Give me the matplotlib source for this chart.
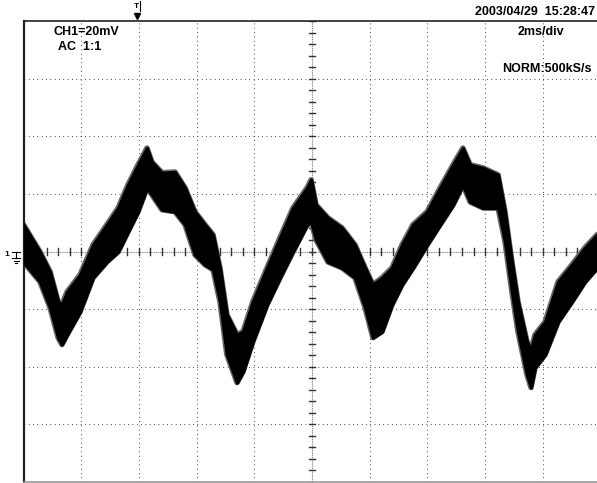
import numpy as np
import matplotlib.pyplot as plt
from matplotlib.lines import Line2D

# trace envelope (time in ms from left edge, voltage in mV)
t_ms = [0.0, 0.57, 0.92, 1.20, 1.33, 1.51, 1.96, 2.41, 2.89, 3.28, 3.62, 3.97,
        4.28, 4.45, 4.80, 5.25, 5.60, 5.94, 6.29, 6.57, 6.81, 7.05, 7.40, 7.61,
        7.95, 8.44, 8.89, 9.34, 9.83, 9.97, 10.14, 10.55, 11.04, 11.49, 11.84,
        12.11, 12.43, 12.77, 13.12, 13.50, 13.99, 14.44, 14.89, 15.23, 15.48,
        15.93, 16.45, 16.69, 16.93, 17.14, 17.45, 17.59, 17.73, 18.08, 18.53,
        19.01, 19.46, 19.88, 20.0]
v_top = [9.3, -0.1, -7.0, -17.4, -18.5, -14.0, -8.1, 2.3, 9.3, 15.1, 23.1, 30.1,
         35.9, 31.1, 27.3, 27.6, 22.1, 13.8, 9.3, 5.8, -5.7, -21.9, -28.9, -27.8,
         -17.4, -5.7, 4.8, 15.1, 22.1, 24.9, 16.2, 11.7, 8.2, 2.3, -5.7,
         -11.5, -9.1, -5.7, 2.3, 9.3, 13.8, 22.1, 30.1, 35.9, 30.1,
         29.0, 26.6, 13.8, -3.6, -17.4, -31.3, -34.1, -28.9, -24.4, -10.5,
         -4.6, 1.3, 5.8, 6.5]
v_bot = [-3.6, -10.5, -19.5, -29.9, -32.3, -28.9, -20.9, -9.1, -3.6, -0.1, 6.8, 13.8,
         22.1, 19.7, 14.5, 13.8, 9.3, -1.1, -4.6, -6.3, -17.4, -35.8, -45.5, -41.7,
         -31.3, -18.5, -9.1, -0.1, 9.3, 10.3, 4.1, -3.6, -5.7, -9.1, -19.5,
         -29.9, -27.8, -18.5, -11.5, -5.7, 2.3, 9.3, 16.2, 23.1, 17.2,
         15.1, 15.1, 3.4, -14.0, -27.8, -42.7, -47.2, -40.3, -35.8, -24.4,
         -17.4, -10.5, -5.7, -5.0]

W, H = 597, 483
fig = plt.figure(figsize=(W / 100, H / 100), dpi=100)
fig.patch.set_facecolor('white')

# plot area: 10 x 8 divisions, 2 ms/div and 20 mV/div
ax = fig.add_axes([23.5 / W, 1.0 / H, 577 / W, 461 / H])
ax.set_xlim(0, 20)
ax.set_ylim(-80, 80)
ax.set_xticks([])
ax.set_yticks([])
ax.spines['right'].set_visible(False)
ax.spines['left'].set_color('#222222')
ax.spines['left'].set_linewidth(1.6)
ax.spines['top'].set_color('#222222')
ax.spines['top'].set_linewidth(1.2)
ax.spines['bottom'].set_color('#999999')
ax.spines['bottom'].set_linewidth(1.2)

dots = (0, (0.72, 3.43))
for x in [2, 4, 6, 8, 12, 14, 16, 18]:
    ax.axvline(x, color='#222222', lw=0.75, linestyle=dots, zorder=1)
for y in [-60, -40, -20, 20, 40, 60]:
    ax.axhline(y, color='#222222', lw=0.75, linestyle=dots, zorder=1)

# centre axes with small ticks
ax.axvline(10, color='#888888', lw=0.8, linestyle=(0, (1.2, 0.8)), zorder=1)
ax.axhline(0, color='#888888', lw=0.8, linestyle=(0, (1.2, 0.8)), zorder=1)
for yy in np.arange(-80, 81, 4):
    ax.plot([9.88, 10.12], [yy, yy], color='#333333', lw=1.0, zorder=1)
for xx in np.arange(0, 20.01, 0.4):
    ax.plot([xx, xx], [-1.3, 1.3], color='#333333', lw=1.0, zorder=1)

# noisy trace drawn as a filled band with a soft grey fringe
ax.plot(t_ms, v_top, color='#666666', lw=4.0, zorder=2, solid_joinstyle='round')
ax.plot(t_ms, v_bot, color='#666666', lw=4.0, zorder=2, solid_joinstyle='round')
ax.fill_between(t_ms, v_bot, v_top, color='black', lw=2.4, edgecolor='black',
                zorder=3)

def fx(px):
    return px / W


def fy(py):
    return 1 - py / H


font = dict(family='Liberation Sans', fontsize=9, fontweight='bold',
            color='black', va='center')
fig.text(fx(595), fy(12), '2003/04/29  15:28:47', ha='right', **font)
fig.text(fx(53), fy(32), 'CH1=20mV', ha='left', **font)
fig.text(fx(58), fy(47), 'AC  1:1', ha='left', **font)
fig.text(fx(564), fy(32), '2ms/div', ha='right', **font)
fig.text(fx(592), fy(69), 'NORM:500kS/s', ha='right', **font)

# trigger marker
fig.text(fx(136), fy(6), 'T', ha='center', va='center', fontsize=6,
         family='Liberation Sans', fontweight='bold')
fig.add_artist(Line2D([fx(140), fx(140)], [fy(1), fy(11)], color='black', lw=0.8))
fig.add_artist(Line2D([fx(136.5)], [fy(16)], marker='v', color='black',
                      markersize=5, linestyle='none'))

# ground marker for channel 1
fig.text(fx(7), fy(255), '1', ha='center', va='center', fontsize=6,
         family='Liberation Sans', fontweight='bold')
fig.add_artist(Line2D([fx(12), fx(20)], [fy(252), fy(252)], color='black', lw=0.8))
fig.add_artist(Line2D([fx(16), fx(16)], [fy(252), fy(258)], color='black', lw=0.8))
fig.add_artist(Line2D([fx(12), fx(20)], [fy(258), fy(258)], color='black', lw=0.8))
fig.add_artist(Line2D([fx(13.5), fx(18.5)], [fy(260.5), fy(260.5)], color='black', lw=0.8))
fig.add_artist(Line2D([fx(15), fx(17)], [fy(263), fy(263)], color='black', lw=0.8))

fig.savefig('out.png', dpi=100)
